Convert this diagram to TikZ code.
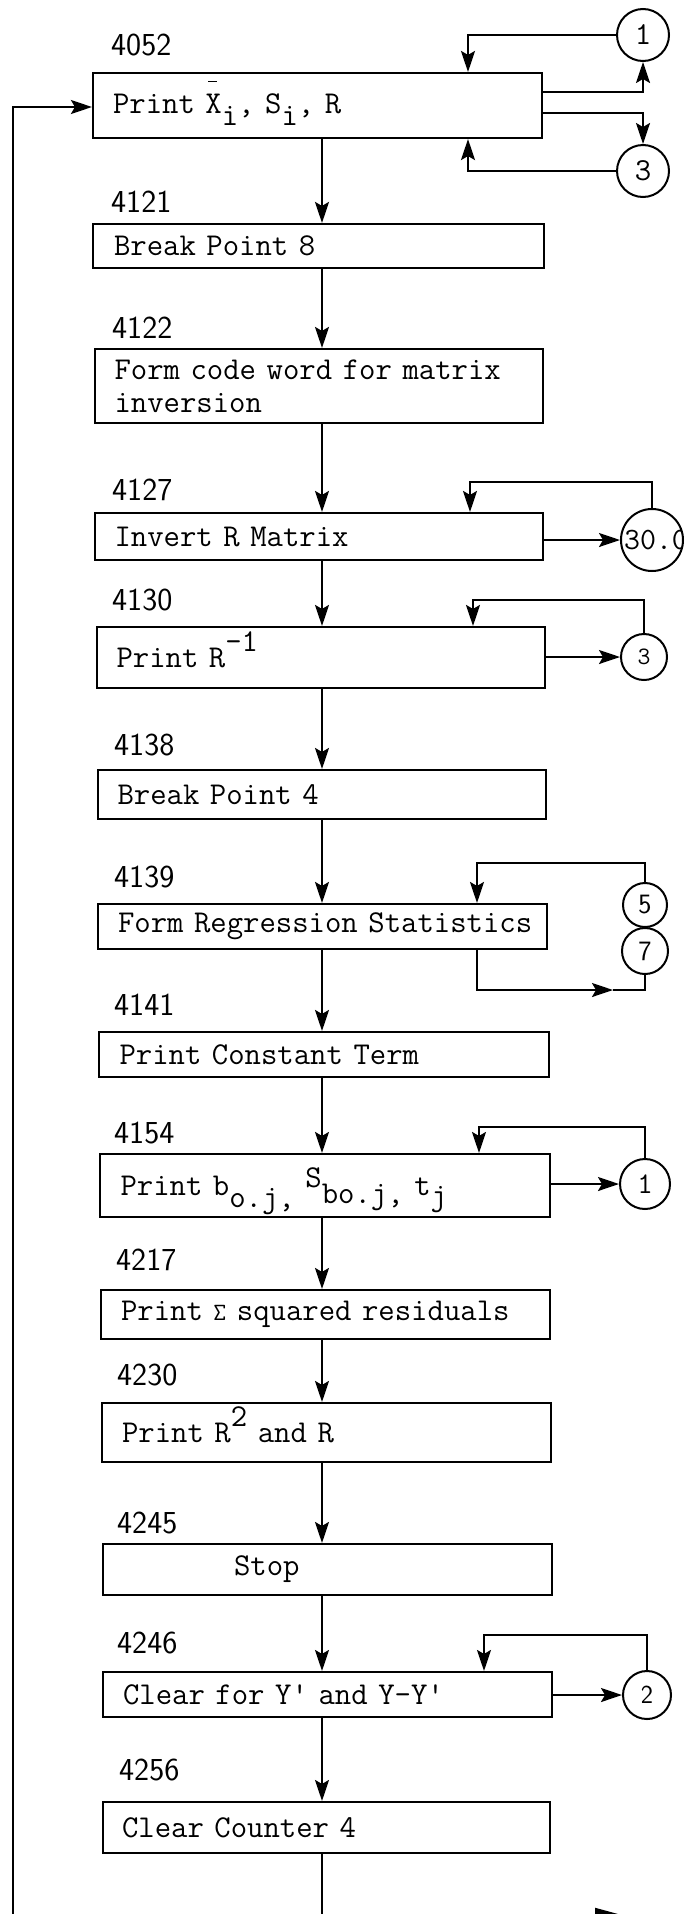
\documentclass[tikz,border=0pt]{standalone}
\usetikzlibrary{arrows.meta}
\newcommand\mydn[2][12pt]{\smash{\raisebox{-#1}{#2}}}
\newcommand\myup[2][16pt]{\smash{\raisebox{#1}{#2}}}
\newcommand\myxbar{\makebox[0pt][l]{\smash{\raisebox{31pt}{\kern3pt\rule{9pt}{1.6pt}}}}}
\newcommand\boxfont{\fontsize{31.8}{33}\selectfont\ttfamily}
\newcommand\labfont{\fontsize{32}{32}\selectfont\sffamily}
\begin{document}
\begin{tikzpicture}[x=1pt,y=-1pt,
  box/.style={draw, line width=2.1pt, rectangle, inner xsep=19pt, inner ysep=0pt,
              text width=409pt, align=left, font=\boxfont},
  lab/.style={anchor=west, inner sep=0pt, font=\labfont},
  circ/.style={draw, circle, line width=2pt, inner sep=0pt, minimum size=#1},
  cfont/.style={font=\fontsize{#1}{#1}\selectfont\ttfamily},
  sfont/.style={font=\fontsize{#1}{#1}\selectfont\sffamily},
  arr/.style={line width=2.1pt, -{Stealth[length=21pt,width=14pt,inset=4pt]}},
  ln/.style={line width=2.1pt}]
\useasboundingbox (0,0) rectangle (697,1914);

% labels
\node[lab] (l4052) at (111,45) {4052};
\node[lab] (l4121) at (111,202) {4121};
\node[lab] (l4122) at (112,328) {4122};
\node[lab] (l4127) at (112,490) {4127};
\node[lab] (l4130) at (112,600) {4130};
\node[lab] (l4138) at (114,745) {4138};
\node[lab] (l4139) at (114,877) {4139};
\node[lab] (l4141) at (114,1005) {4141};
\node[lab] (l4154) at (114,1133) {4154};
\node[lab] (l4217) at (116,1260) {4217};
\node[lab] (l4230) at (117,1375) {4230};
\node[lab] (l4245) at (117,1523) {4245};
\node[lab] (l4246) at (117,1643) {4246};
\node[lab] (l4256) at (119,1770) {4256};

% boxes
\node[box, minimum width=449pt, minimum height=65pt] (b1) at (317.5,105.5)
  {\mbox{Print \myxbar X\mydn{i}, S\mydn{i}, R}};
\node[box, minimum width=451pt, minimum height=44pt] (b2) at (318.5,246) {\mbox{Break Point 8}};
\node[box, minimum width=448pt, minimum height=74pt] (b3) at (319,386) {Form code word for matrix\\inversion};
\node[box, minimum width=448pt, minimum height=47pt] (b4) at (319,536.5) {\mbox{Invert R Matrix}};
\node[box, minimum width=448pt, minimum height=61pt] (b5) at (321,657.5) {\mbox{Print R\myup{-1}}};
\node[box, minimum width=448pt, minimum height=49pt] (b6) at (322,794.5) {\mbox{Break Point 4}};
\node[box, minimum width=449pt, minimum height=45pt] (b7) at (322.5,926.5) {\mbox{Form Regression Statistics}};
\node[box, minimum width=450pt, minimum height=45pt] (b8) at (324,1054.5) {\mbox{Print Constant Term}};
\node[box, minimum width=450pt, minimum height=63pt] (b9) at (325,1185.5)
  {\mbox{Print b\mydn{o.j,} \myup[8pt]{S}\mydn[8pt]{bo.j,} t\mydn[10pt]{j}}};
\node[box, minimum width=449pt, minimum height=49pt] (b10) at (325.5,1314.5) {\mbox{Print $\mathtt{\Sigma}$ squared residuals}};
\node[box, minimum width=449pt, minimum height=59pt] (b11) at (326.5,1432.5) {\mbox{Print R\myup{2} and R}};
\node[box, minimum width=449pt, minimum height=51pt] (b12) at (327.5,1569.5) {\mbox{\hspace*{111pt}Stop}};
\node[box, minimum width=449pt, minimum height=45pt] (b13) at (327.5,1694.5) {\mbox{Clear for Y\textquotesingle{} and Y-Y\textquotesingle}};
\node[box, minimum width=447pt, minimum height=51pt] (b14) at (326.5,1827.5) {\mbox{Clear Counter 4}};

% connector circles
\node[circ=52pt, cfont=32] (c1a) at (643,35) {1};
\node[circ=52pt, cfont=32] (c3a) at (643,171) {3};
\node[circ=62pt, path picture={\node[cfont=31] (t30) at ([xshift=4pt]path picture bounding box.center) {30.0};}] (c30) at (652,540) {};
\node[circ=46pt, cfont=25] (c3b) at (644,657) {3};
\node[circ=44pt, sfont=28] (c5) at (645,905) {5};
\node[circ=46pt, sfont=28] (c7) at (645,951) {7};
\node[circ=50pt, cfont=30] (c1b) at (645,1184) {1};
\node[circ=48pt, sfont=26] (c2) at (647,1695) {2};

% helper coordinates
\coordinate (mx) at (322,0);
\coordinate (k1) at (468,0);
\coordinate (k4) at (470,482);
\coordinate (k5) at (473,600);
\coordinate (k7) at (477,863);
\coordinate (u7) at (477,990);
\coordinate (m7) at (613,990);
\coordinate (k9) at (479,1127);
\coordinate (k13) at (484,1635);
\coordinate (fb) at (13,1930);
\coordinate (fy) at (0,107);
\coordinate (bot) at (322,1930);
\coordinate (ba) at (640,1920);

% main flow
\foreach \a/\b in {b1/b2,b2/b3,b3/b4,b4/b5,b5/b6,b6/b7,b7/b8,b8/b9,b9/b10,b10/b11,b11/b12,b12/b13,b13/b14}
  \draw[arr] (\a.south -| mx) -- (\b.north -| mx);
\draw[ln] (b14.south -| mx) -- (bot);
\draw[line width=2.1pt, -{Triangle[length=45pt,width=24pt]}] (mx |- ba) -- (ba);

% feedback
\draw[arr] (fb) |- (b1.west |- fy);

% box 1 loops
\draw[arr] (c1a.west) -| (k1 |- b1.north);
\draw[arr] ([yshift=13.5pt]b1.east) -| (c1a.south);
\draw[arr] ([yshift=-7.5pt]b1.east) -| (c3a.north);
\draw[arr] (c3a.west) -| (k1 |- b1.south);

% box 4
\draw[arr] (b4.east |- c30) -- (c30.west);
\draw[arr] (c30.north) |- (k4) -- (k4 |- b4.north);

% box 5
\draw[arr] (b5.east |- c3b) -- (c3b.west);
\draw[arr] (c3b.north) |- (k5) -- (k5 |- b5.north);

% box 7
\draw[arr] (c5.north) |- (k7) -- (k7 |- b7.north);
\draw[arr] (u7 |- b7.south) -- (u7) -- (m7);
\draw[ln] (m7) -| (c7.south);

% box 9
\draw[arr] (b9.east |- c1b) -- (c1b.west);
\draw[arr] (c1b.north) |- (k9) -- (k9 |- b9.north);

% box 13
\draw[arr] (b13.east |- c2) -- (c2.west);
\draw[arr] (c2.north) |- (k13) -- (k13 |- b13.north);
\end{tikzpicture}
\end{document}
